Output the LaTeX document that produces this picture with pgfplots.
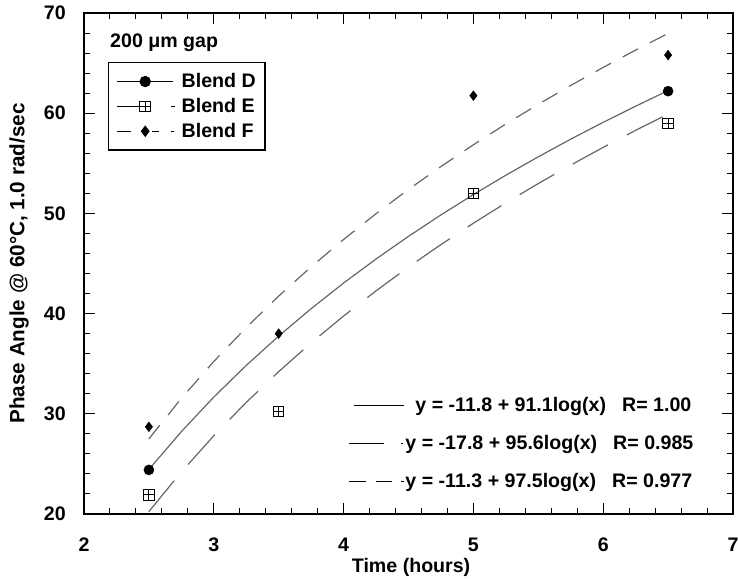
\documentclass[border=0pt]{standalone}
\usepackage{fontspec}
\setmainfont{Liberation Sans}
\usepackage{pgfplots}
\pgfplotsset{compat=1.18}
\pgfdeclareplotmark{boxplus}{%
  \pgfpathrectangle{\pgfqpoint{-\pgfplotmarksize}{-\pgfplotmarksize}}{\pgfqpoint{2\pgfplotmarksize}{2\pgfplotmarksize}}%
  \pgfpathmoveto{\pgfqpoint{-\pgfplotmarksize}{0pt}}\pgfpathlineto{\pgfqpoint{\pgfplotmarksize}{0pt}}%
  \pgfpathmoveto{\pgfqpoint{0pt}{-\pgfplotmarksize}}\pgfpathlineto{\pgfqpoint{0pt}{\pgfplotmarksize}}%
  \pgfusepathqstroke}
\newcommand\lf{\fontsize{14.7}{17}\selectfont\bfseries}
\colorlet{curve}{black!60}

\pgfplotstableread{
x y
2.50 24.45
2.75 28.22
3.00 31.67
3.25 34.83
3.50 37.76
3.75 40.49
4.00 43.05
4.25 45.45
4.50 47.71
4.75 49.85
5.00 51.88
5.25 53.81
5.50 55.65
5.75 57.41
6.00 59.09
6.25 60.70
6.50 62.26
}\fitD
\pgfplotstableread{
x y
2.50 20.24
2.75 24.20
3.00 27.81
3.25 31.14
3.50 34.21
3.75 37.08
4.00 39.76
4.25 42.27
4.50 44.65
4.75 46.89
5.00 49.02
5.25 51.05
5.50 52.98
5.75 54.82
6.00 56.59
6.25 58.29
6.50 59.91
}\fitE
\pgfplotstableread{
x y
2.50 27.50
2.75 31.54
3.00 35.22
3.25 38.61
3.50 41.75
3.75 44.67
4.00 47.40
4.25 49.97
4.50 52.39
4.75 54.68
5.00 56.85
5.25 58.92
5.50 60.89
5.75 62.77
6.00 64.57
6.25 66.30
6.50 67.96
}\fitF

\begin{document}
\begin{tikzpicture}
\begin{axis}[
  name=ax,
  width=486.75pt, height=375.75pt, scale only axis,
  xmin=2, xmax=7, ymin=20, ymax=70,
  xtick={2,3,4,5,6,7}, ytick={20,30,40,50,60,70},
  minor x tick num=4, minor y tick num=4,
  tick align=inside,
  major tick length=8pt, minor tick length=4.3pt,
  tick style={black, line width=0.8pt},
  axis line style={black, line width=1pt},
  /pgf/number format/assume math mode=true,
  ticklabel style={font=\lf},
  xticklabel style={anchor=center, yshift=-23pt},
  yticklabel style={anchor=east, inner sep=0pt, xshift=-13.5pt},
  xlabel={Time (hours)},
  ylabel={Phase Angle @ 60°C, 1.0 rad/sec},
  label style={font=\lf},
  xlabel style={at={(axis description cs:0.504,-0.106)}, anchor=center},
  ylabel style={at={(axis description cs:-0.100,0.5)}, anchor=center, font=\fontsize{15.5}{17}\selectfont\bfseries},
  legend style={at={(rel axis cs:0.037,0.902)}, anchor=north west,
    draw=black, line width=1pt, fill=white, font=\lf,
    inner xsep=6pt, inner ysep=7pt, row sep=4.5pt, column sep=4pt,
    nodes={inner sep=1pt}},
  legend cell align=left,
]
\addplot[curve, line width=0.9pt, forget plot] table {\fitD};
\addplot[curve, line width=0.9pt, dash pattern=on 30pt off 16pt, forget plot] table {\fitE};
\addplot[curve, line width=0.9pt, dash pattern=on 13pt off 10pt, forget plot] table {\fitF};

\addplot[only marks, mark=*, mark size=3.75pt, black,
  legend image code/.code={
    \draw[black, line width=0.8pt] (0pt,0pt)--(42pt,0pt);
    \fill[black] (21pt,0pt) circle (3.75pt);}]
  coordinates {(2.5,24.4) (6.5,62.2)};
\addlegendentry{Blend D}

\addplot[only marks, mark=boxplus, mark size=3.9pt, black, line width=0.75pt,
  legend image code/.code={
    \draw[black, line width=0.8pt] (0pt,0pt)--(17pt,0pt);
    \draw[black, line width=0.8pt] (40.5pt,0pt)--(43pt,0pt);
    \draw[black, line width=0.75pt] (17pt,-3.9pt) rectangle (24.8pt,3.9pt);
    \draw[black, line width=0.75pt] (17pt,0pt)--(24.8pt,0pt) (20.9pt,-3.9pt)--(20.9pt,3.9pt);}]
  coordinates {(2.5,21.9) (3.5,30.2) (5,52.0) (6.5,59.0)};
\addlegendentry{Blend E}

\addplot[only marks, mark=diamond*, mark size=3.6pt, black,
  legend image code/.code={
    \draw[black, line width=0.8pt] (0pt,0pt)--(10.5pt,0pt) (26pt,0pt)--(31pt,0pt) (40pt,0pt)--(42.5pt,0pt);
    \fill[black] (21pt,3.6pt)--(23.7pt,0pt)--(21pt,-3.6pt)--(18.3pt,0pt)--cycle;}]
  coordinates {(2.5,28.7) (3.5,38.0) (5,61.75) (6.5,65.8)};
\addlegendentry{Blend F}

\node[anchor=west, font=\lf, inner sep=0pt] at (rel axis cs:0.04,0.94) {200 μm gap};
\end{axis}

\begin{axis}[
  width=486.75pt, height=375.75pt, scale only axis, hide axis,
  xmin=0, xmax=1, ymin=0, ymax=1,
  legend style={at={(rel axis cs:0.407,0.236)}, anchor=north west,
    draw=none, fill=none, font=\lf,
    inner sep=0pt, row sep=14.25pt, column sep=0pt,
    nodes={inner sep=1pt}},
  legend cell align=left,
]
\addplot[draw=none, forget plot=false,
  legend image code/.code={
    \path (0pt,0pt)--(41pt,0pt);
    \draw[black, line width=0.8pt] (3.75pt,0pt)--(41pt,0pt);}]
  coordinates {(-1,-1)};
\addlegendentry{\hspace*{7.5pt}y = -11.8 + 91.1log(x)\hspace{12pt}R= 1.00}
\addplot[draw=none,
  legend image code/.code={
    \path (0pt,0pt)--(41pt,0pt);
    \draw[black, line width=0.8pt] (0pt,0pt)--(26pt,0pt) (39pt,0pt)--(40.5pt,0pt);}]
  coordinates {(-1,-1)};
\addlegendentry{y = -17.8 + 95.6log(x)\hspace{12pt}R= 0.985}
\addplot[draw=none,
  legend image code/.code={
    \path (0pt,0pt)--(41pt,0pt);
    \draw[black, line width=0.8pt] (0pt,0pt)--(12.75pt,0pt) (20pt,0pt)--(32pt,0pt) (39pt,0pt)--(41pt,0pt);}]
  coordinates {(-1,-1)};
\addlegendentry{y = -11.3 + 97.5log(x)\hspace{12pt}R= 0.977}
\end{axis}

\pgfresetboundingbox
\path ([shift={(-63pt,-48pt)}]ax.south west) rectangle ([shift={(3.75pt,9.75pt)}]ax.north east);
\end{tikzpicture}
\end{document}
